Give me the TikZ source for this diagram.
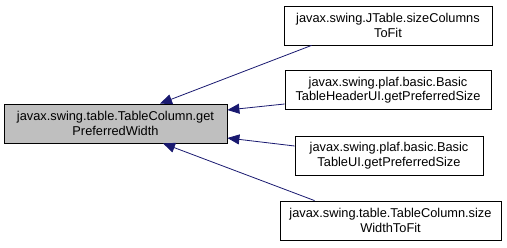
\documentclass[tikz,border=0pt]{standalone}
\usepackage{fontspec}
\setmainfont{Liberation Sans}
\usetikzlibrary{arrows.meta}
\definecolor{edgeblue}{HTML}{191970}
\definecolor{boxgray}{HTML}{BFBFBF}

\begin{document}
\begin{tikzpicture}[x=1pt,y=-1pt,
    fn/.style={draw=black,fill=white,line width=0.8pt,minimum height=39pt,
      inner sep=0pt,align=center,font=\fontsize{12.8}{14.4}\selectfont},
    call/.style={draw=edgeblue,line width=0.8pt,
      -{Triangle[length=12pt,width=10pt]}}]
  \useasboundingbox (0,0) rectangle (507,248);
  \node[fn,fill=boxgray,minimum width=223pt] (main) at (115.5,123.5)
    {javax.swing.table.TableColumn.get\\PreferredWidth};
  \node[fn,minimum width=208pt] (sizecols) at (388,25.5)
    {javax.swing.JTable.sizeColumns\\ToFit};
  \node[fn,minimum width=206pt] (headerui) at (388,90)
    {javax.swing.plaf.basic.Basic\\TableHeaderUI.getPreferredSize};
  \node[fn,minimum width=188pt] (tableui) at (389,155.5)
    {javax.swing.plaf.basic.Basic\\TableUI.getPreferredSize};
  \node[fn,minimum width=221pt] (sizewidth) at (390.5,220.5)
    {javax.swing.table.TableColumn.size\\WidthToFit};
  \draw[call] ([xshift=28pt]sizecols.south west) -- ([xshift=44.5pt]main.north);
  \draw[call] ([yshift=-14pt]headerui.west) -- ([yshift=13.5pt]main.east);
  \draw[call] ([yshift=9.5pt]tableui.west) -- ([yshift=-14.5pt]main.east);
  \draw[call] ([xshift=35pt]sizewidth.north west) -- ([xshift=47.5pt]main.south);
\end{tikzpicture}
\end{document}
